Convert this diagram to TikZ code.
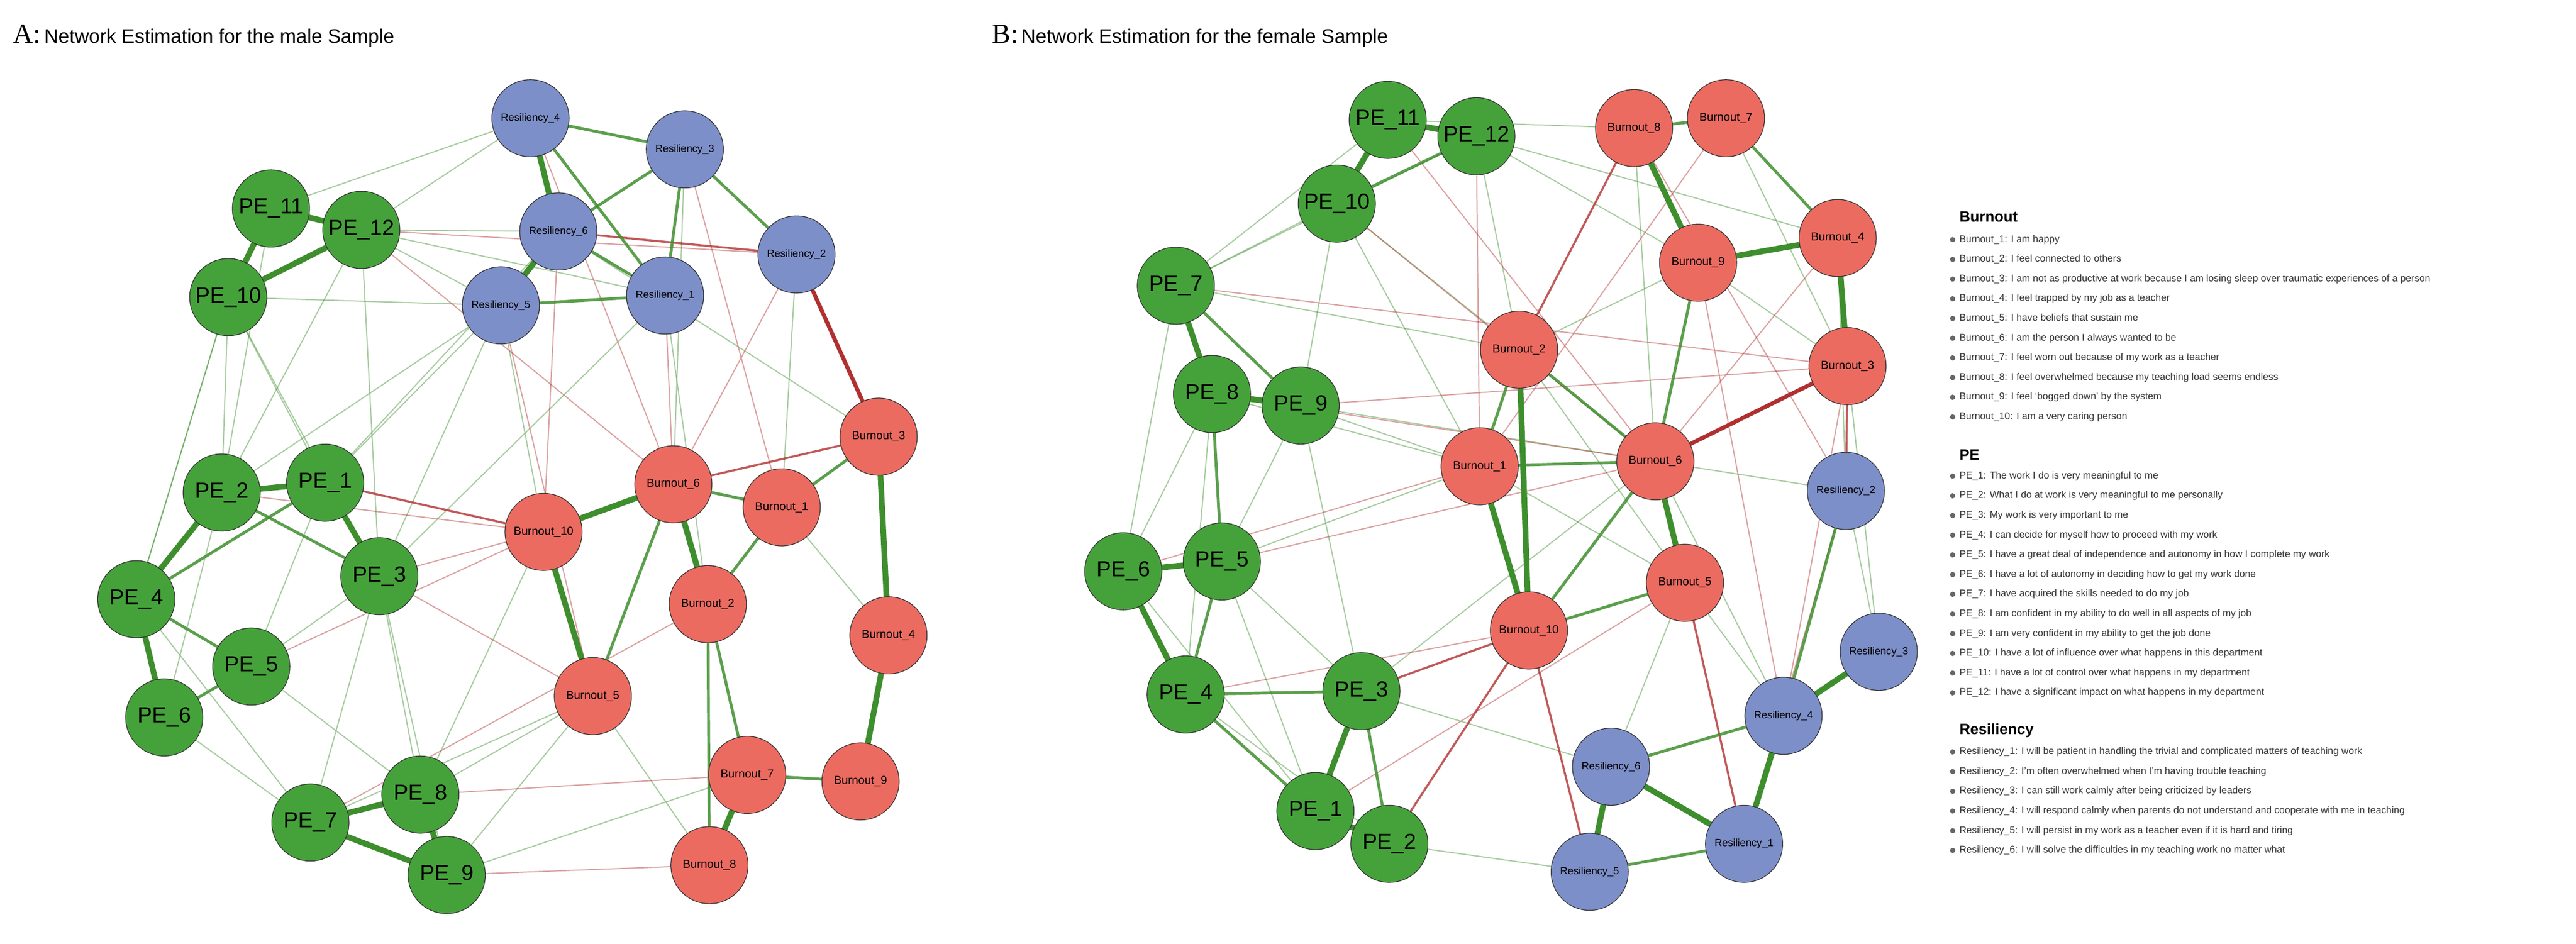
\documentclass[tikz,border=0pt]{standalone}
\usepackage{fontspec}
\setmainfont{Liberation Sans}
\newfontfamily\serifA{Liberation Serif}
\definecolor{gn}{HTML}{45A23A}
\definecolor{rd}{HTML}{EC6B61}
\definecolor{bl}{HTML}{7D8FC8}
\definecolor{eg}{HTML}{3E8E2E}
\definecolor{er}{HTML}{B03030}
\begin{document}
\begin{tikzpicture}[x=0.5mm,y=-0.5mm,
  nd/.style={circle,draw=black!80,line width=0.6pt,minimum size=23.5mm,inner sep=0pt},
  pe/.style={nd,fill=gn,font=\fontsize{19}{20}\selectfont},
  bo/.style={nd,fill=rd,font=\fontsize{10}{11}\selectfont},
  rs/.style={nd,fill=bl,font=\fontsize{9}{10}\selectfont},
  G1/.style={eg,line width=5pt},
  G2/.style={eg,line width=2.5pt,opacity=.85},
  G3/.style={eg,line width=1pt,opacity=.45},
  R1/.style={er,line width=3.5pt},
  R2/.style={er,line width=1.8pt,opacity=.8},
  R3/.style={er,line width=1pt,opacity=.45},
  lg/.style={anchor=west,font=\fontsize{8.5}{9}\selectfont,text=black!80,inner sep=0pt},
  lh/.style={anchor=west,font=\bfseries\fontsize{13}{14}\selectfont,inner sep=0pt},
  dot/.style={circle,fill=black!60,inner sep=0pt,minimum size=1.6mm}]
\useasboundingbox (0,0) rectangle (1568.6,575);
% ---------- left nodes
\begin{scope}[name prefix=a]
\coordinate (R4) at (323,72); \coordinate (R3) at (417,91); \coordinate (R6) at (340,141);
\coordinate (R5) at (305,186); \coordinate (R1) at (405,180); \coordinate (R2) at (485,155);
\coordinate (P11) at (165,127); \coordinate (P12) at (220,140); \coordinate (P10) at (139,181);
\coordinate (P1) at (198,294); \coordinate (P2) at (135,300); \coordinate (P3) at (231,351);
\coordinate (P4) at (83,365); \coordinate (P5) at (153,406); \coordinate (P6) at (100,437);
\coordinate (P7) at (189,501); \coordinate (P8) at (256,484); \coordinate (P9) at (272,533);
\coordinate (B3) at (535,266); \coordinate (B6) at (410,295); \coordinate (B1) at (476,309);
\coordinate (B10) at (331,324); \coordinate (B2) at (431,368); \coordinate (B4) at (541,387);
\coordinate (B5) at (361,424); \coordinate (B7) at (455,472); \coordinate (B9) at (524,476);
\coordinate (B8) at (432,527);
\end{scope}
\begin{scope}[name prefix=b]
\coordinate (P11) at (845,73); \coordinate (P12) at (899,83); \coordinate (P10) at (814,124);
\coordinate (P7) at (716,174); \coordinate (P8) at (738,240); \coordinate (P9) at (792,247);
\coordinate (P6) at (684,348); \coordinate (P5) at (744,342); \coordinate (P4) at (722,423);
\coordinate (P3) at (829,421); \coordinate (P1) at (801,494); \coordinate (P2) at (846,514);
\coordinate (B8) at (995,78); \coordinate (B7) at (1051,72); \coordinate (B9) at (1034,160);
\coordinate (B4) at (1119,145); \coordinate (B2) at (925,213); \coordinate (B3) at (1125,223);
\coordinate (B1) at (901,284); \coordinate (B6) at (1008,281); \coordinate (B5) at (1026,355);
\coordinate (B10) at (931,384);
\coordinate (R2) at (1124,299); \coordinate (R3) at (1144,397); \coordinate (R4) at (1086,436);
\coordinate (R6) at (981,467); \coordinate (R1) at (1062,514); \coordinate (R5) at (968,531);
\end{scope}
% ---------- left edges
\foreach \s/\t in {P12/R5,P10/R5,P3/R5,P1/R6,P3/P8,P3/P7,P1/P5,P2/P10,P10/P1,P12/P3,P4/P7,P6/P7,P11/R4,P12/R1,P8/B5,P10/P4,P12/P2,P1/R5,P3/R1,P5/P8,P2/P6,P4/P10,P9/B5,P8/B10,R5/B10,R4/P12,R1/B2,R3/B6,R6/B3,P7/B5,P11/P2,P12/R6,P9/P3,B8/B5,B4/B1,R2/B1,P9/B7,P5/P3,P10/P3,P2/R5}
  \draw[G3] (a\s) -- (a\t);
\foreach \s/\t in {P12/R2,R1/B6,P3/B5,R3/B1,P3/B10,R4/B6,R6/B10,P8/B7,P7/B2,P5/B10,R5/B5,P12/B6,B8/P9,R2/B6,P2/B10}
  \draw[R3] (a\s) -- (a\t);
\foreach \s/\t in {P1/B10,B6/B3,R6/R2}
  \draw[R2] (a\s) -- (a\t);
\draw[R1] (aR2) -- (aB3);
\foreach \s/\t in {R4/R3,R3/R2,R5/R1,R3/R1,R6/R1,B1/B3,B6/B1,B6/B5,B2/B8,B1/B2,B7/B2,B9/B7,P2/P3,P4/P5,P5/P6,R4/R1,R6/R3,P1/P4}
  \draw[G2] (a\s) -- (a\t);
\foreach \s/\t in {P11/P10,P11/P12,P12/P10,P1/P2,P1/P3,P2/P4,P4/P6,P7/P8,P8/P9,P7/P9,R4/R6,R6/R5,B3/B4,B4/B9,B7/B8,B2/B6,B6/B10,B10/B5}
  \draw[G1] (a\s) -- (a\t);
% ---------- right edges
\foreach \s/\t in {P9/B1,P12/B9,P3/B6,P9/B6,P5/B1,P10/P7,P12/P7,P10/P9,P7/P6,P8/P6,P9/P5,P8/P4,P5/P3,P6/P1,P10/B2,P11/B8,P12/B4,B9/B3,B7/B3,B4/R2,B3/R3,B6/R2,B5/R4,B5/R6,P2/R5,P3/R6,P4/P2,P9/P3,B1/B5,B2/B5,P8/B1,P7/B2,R2/R3,B6/R4,P12/B2,P10/B1,B8/B6,P11/P7,P5/P1,B9/B2}
  \draw[G3] (b\s) -- (b\t);
\foreach \s/\t in {P10/B6,P12/B1,P7/B3,P9/B3,B8/R2,B4/B6,P8/B6,P6/B1,P4/B10,B9/R4,B3/R4,P1/B5,P11/B6,B7/B1,R2/R1,P5/B6}
  \draw[R3] (b\s) -- (b\t);
\foreach \s/\t in {B8/B2,P3/B10,P2/B10,B3/R2,R5/B10,B5/R1}
  \draw[R2] (b\s) -- (b\t);
\draw[R1] (bB3) -- (bB6);
\foreach \s/\t in {B8/B7,B7/B4,B2/B1,B2/B6,B1/B6,B5/B10,R6/R4,R5/R1,R2/R4,P12/P10,P3/P2,P4/P1,P5/P4,P7/P9,B9/B6,P8/P5,P4/P3,B8/B9,B6/B10,B1/B10}
  \draw[G2] (b\s) -- (b\t);
\foreach \s/\t in {P11/P12,P11/P10,P7/P8,P8/P9,P6/P5,P6/P4,P3/P1,P1/P2,B9/B8,B9/B4,B4/B3,B6/B5,B10/B1,B2/B10,R4/R3,R4/R1,R6/R5,R6/R1}
  \draw[G1] (b\s) -- (b\t);
% ---------- nodes
\foreach \p/\n in {a/1,a/2,a/3,a/4,a/5,a/6,a/7,a/8,a/9,a/10,a/11,a/12,b/1,b/2,b/3,b/4,b/5,b/6,b/7,b/8,b/9,b/10,b/11,b/12}
  \node[pe] (n\p P\n) at (\p P\n) {PE\_\n};
\foreach \p/\n in {a/1,a/2,a/3,a/4,a/5,a/6,a/7,a/8,a/9,a/10,b/1,b/2,b/3,b/4,b/5,b/6,b/7,b/8,b/9,b/10}
  \node[bo] (n\p B\n) at (\p B\n) {Burnout\_\n};
\foreach \p/\n in {a/1,a/2,a/3,a/4,a/5,a/6,b/1,b/2,b/3,b/4,b/5,b/6}
  \node[rs] (n\p R\n) at (\p R\n) {Resiliency\_\n};
% ---------- titles
\node[anchor=west,inner sep=0pt] (ta) at (8,22) {{\serifA\fontsize{24}{26}\selectfont A:} \fontsize{17}{18}\selectfont Network Estimation for the male Sample};
\node[anchor=west,inner sep=0pt] (tb) at (604,22) {{\serifA\fontsize{24}{26}\selectfont B:} \fontsize{17}{18}\selectfont Network Estimation for the female Sample};
% ---------- legend
\node[lh] (h1) at (1193,132) {Burnout};
\foreach \i/\t [count=\k from 0] in {1/I am happy,2/I feel connected to others,3/I am not as productive at work because I am losing sleep over traumatic experiences of a person,4/I feel trapped by my job as a teacher,5/I have beliefs that sustain me,6/I am the person I always wanted to be,7/I feel worn out because of my work as a teacher,8/I feel overwhelmed because my teaching load seems endless,9/I feel `bogged down' by the system,10/I am a very caring person}
  {\node[dot] (db\i) at (1189,146+12*\k) {}; \node[lg] (lb\i) at (1193,146+12*\k) {Burnout\_\i: \t};}
\node[lh] (h2) at (1193,277) {PE};
\foreach \i/\t [count=\k from 0] in {1/The work I do is very meaningful to me,2/What I do at work is very meaningful to me personally,3/My work is very important to me,4/I can decide for myself how to proceed with my work,5/I have a great deal of independence and autonomy in how I complete my work,6/I have a lot of autonomy in deciding how to get my work done,7/I have acquired the skills needed to do my job,8/I am confident in my ability to do well in all aspects of my job,9/I am very confident in my ability to get the job done,10/I have a lot of influence over what happens in this department,11/I have a lot of control over what happens in my department,12/I have a significant impact on what happens in my department}
  {\node[dot] (dp\i) at (1189,290+12*\k) {}; \node[lg] (lp\i) at (1193,290+12*\k) {PE\_\i: \t};}
\node[lh] (h3) at (1193,445) {Resiliency};
\foreach \i/\t [count=\k from 0] in {1/I will be patient in handling the trivial and complicated matters of teaching work,2/I'm often overwhelmed when I'm having trouble teaching,3/I can still work calmly after being criticized by leaders,4/I will respond calmly when parents do not understand and cooperate with me in teaching,5/I will persist in my work as a teacher even if it is hard and tiring,6/I will solve the difficulties in my teaching work no matter what}
  {\node[dot] (dr\i) at (1189,458+12*\k) {}; \node[lg] (lr\i) at (1193,458+12*\k) {Resiliency\_\i: \t};}
\end{tikzpicture}
\end{document}
